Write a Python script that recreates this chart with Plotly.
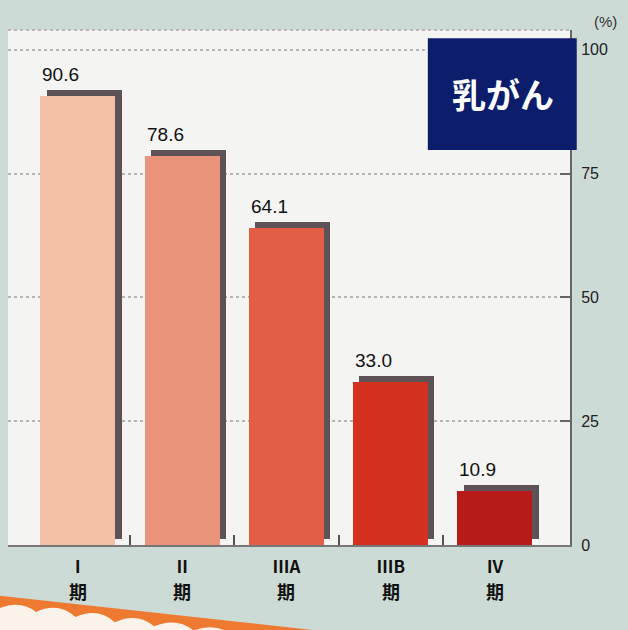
import plotly.graph_objects as go

# Breast cancer 5-year survival by stage (%)
stages = ["Ⅰ", "Ⅱ", "ⅢA", "ⅢB", "Ⅳ"]
stage_suffix = "期"
survival = [90.6, 78.6, 64.1, 33.0, 10.9]
labels = ["90.6", "78.6", "64.1", "33.0", "10.9"]
bar_colors = ["#f4c0a6", "#e9937b", "#e25e45", "#d3301f", "#b81a1a"]
y_ticks = [0, 25, 50, 75, 100]

xs = list(range(len(stages)))
BAR_W = 0.72
SHADOW_DX = 0.06
SHADOW_DY = 1.2

fig = go.Figure()

# drop shadow behind each bar (shifted right and up)
fig.add_trace(go.Bar(
    x=xs, y=survival, base=SHADOW_DY,
    width=BAR_W, offset=-BAR_W / 2 + SHADOW_DX,
    marker=dict(color="#5f5256", line=dict(width=0)),
    hoverinfo="skip", showlegend=False,
))
# the bars
fig.add_trace(go.Bar(
    x=xs, y=survival,
    width=BAR_W,
    marker=dict(color=bar_colors, line=dict(width=0)),
    showlegend=False,
))

# value labels above each bar, aligned to the bar's left edge
for x, v, t in zip(xs, survival, labels):
    fig.add_annotation(
        x=x - BAR_W / 2, y=v + SHADOW_DY, text=t,
        xanchor="left", yanchor="bottom", showarrow=False,
        font=dict(family="Liberation Sans, Arial", size=19, color="#111"),
        yshift=3,
    )

# second line of each category label ("期") under the numeral
for x in xs:
    fig.add_annotation(
        x=x, xref="x", yref="paper", y=0, yshift=-31,
        text=f"<b>{stage_suffix}</b>", showarrow=False,
        xanchor="center", yanchor="top",
        font=dict(family="Noto Sans CJK JP", size=18, color="#111"),
    )

# title box
fig.add_shape(type="rect", xref="paper", yref="paper",
              x0=0.747, x1=1.012, y0=0.767, y1=0.984,
              fillcolor="#0b1d6b", line=dict(width=0), layer="above")
fig.add_annotation(xref="paper", yref="paper", x=0.88, y=0.876,
                   text="<b>乳がん</b>", showarrow=False,
                   xanchor="center", yanchor="middle",
                   font=dict(family="Noto Sans CJK JP", size=34, color="white"))

# unit label over the right axis
fig.add_annotation(xref="paper", yref="paper", x=1.04, y=1.0, yshift=-2,
                   text="(%)", showarrow=False, xanchor="left", yanchor="bottom",
                   font=dict(family="Liberation Sans, Arial", size=15, color="#333"))

# dotted top edge of the plot frame
fig.add_shape(type="line", xref="paper", yref="paper",
              x0=0, x1=1, y0=1, y1=1,
              line=dict(color="#b8b8b8", width=2, dash="dot"))

# orange scalloped band of the next panel at the bottom
fig.add_shape(type="path", xref="paper", yref="paper",
              path="M -0.02 -0.098 L 0.55 -0.166 L 0.55 -0.2 L -0.02 -0.2 Z",
              fillcolor="#ee7a32", line=dict(width=0), layer="above")
fig.add_shape(type="path", xref="paper", yref="paper",
              path=("M -0.02 -0.125 Q 0.02 -0.105 0.05 -0.13 Q 0.09 -0.11 0.12 -0.14 "
                    "Q 0.16 -0.12 0.19 -0.15 Q 0.23 -0.13 0.26 -0.158 Q 0.3 -0.14 0.33 -0.166 "
                    "Q 0.37 -0.15 0.4 -0.175 L 0.4 -0.2 L -0.02 -0.2 Z"),
              fillcolor="#fbf3ea", line=dict(width=0), layer="above")

fig.update_layout(
    width=628, height=630,
    margin=dict(l=8, r=58, t=30, b=85),
    paper_bgcolor="#cddbd6",
    plot_bgcolor="#f4f4f2",
    barmode="overlay",
    bargap=0,
    xaxis=dict(
        range=[-0.67, 4.72],
        tickvals=xs, ticktext=[f"<b>{s}</b>" for s in stages],
        tickfont=dict(family="Noto Sans CJK JP", size=17, color="#111"),
        showgrid=False, zeroline=False,
        showline=True, linecolor="#777", linewidth=2,
        ticks="", ticklabelstandoff=6,
        minor=dict(tickvals=[0.5, 1.5, 2.5, 3.5], ticks="inside",
                   ticklen=10, tickcolor="#555", tickwidth=2),
    ),
    yaxis=dict(
        side="right",
        range=[0, 104],
        tickvals=y_ticks,
        tickfont=dict(family="Liberation Sans, Arial", size=16, color="#222"),
        showgrid=True, gridcolor="#b5b5b5", griddash="dot", gridwidth=2,
        zeroline=False,
        showline=True, linecolor="#666", linewidth=2,
        ticks="inside", ticklen=10, tickcolor="#666", tickwidth=2,
        ticklabelstandoff=6,
    ),
)

fig.write_html("out.html")
